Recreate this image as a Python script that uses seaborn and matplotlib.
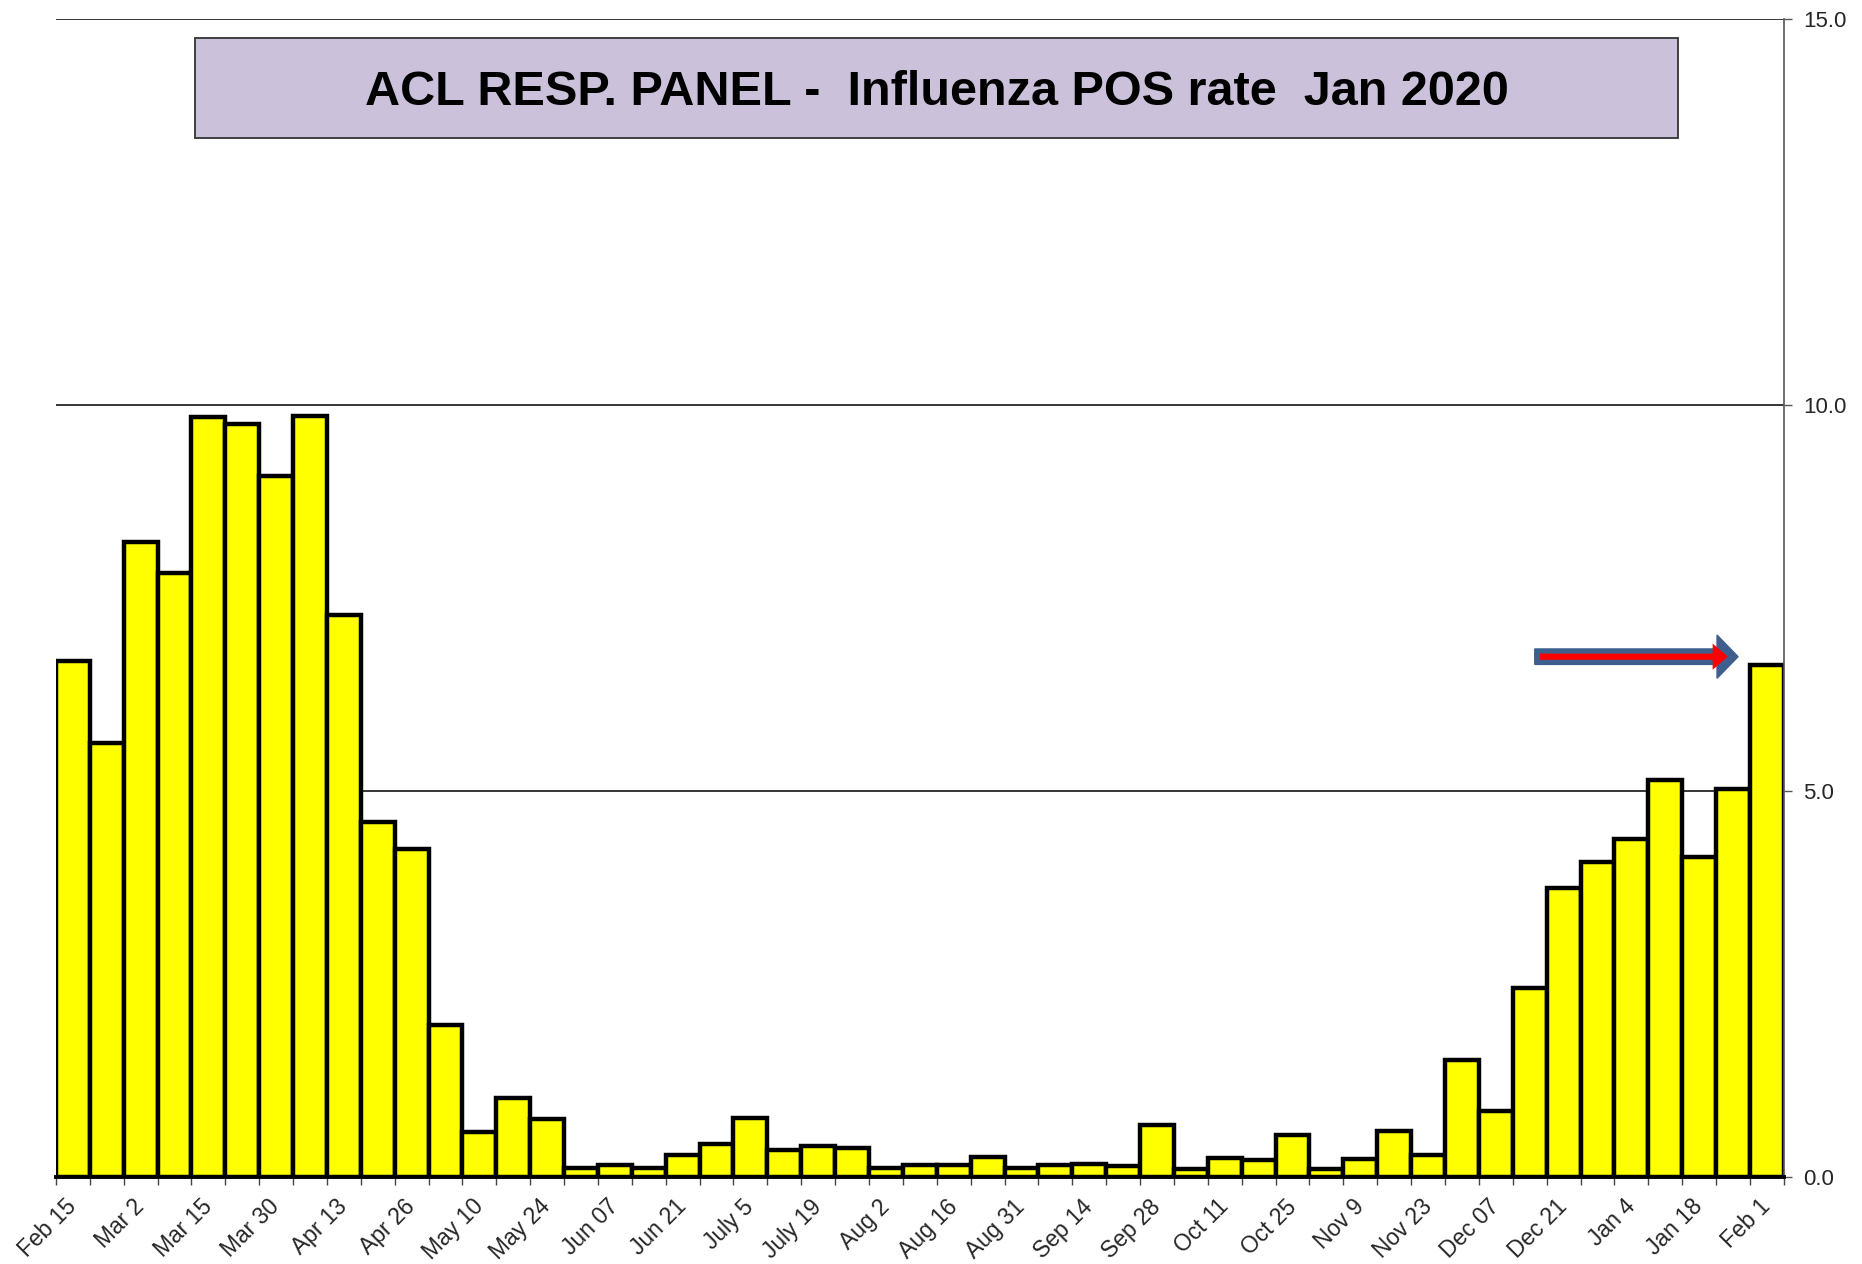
import numpy as np
import pandas as pd
import matplotlib
matplotlib.use("Agg")
import matplotlib.pyplot as plt
import matplotlib.transforms as mtransforms
import seaborn as sns
from matplotlib.patches import Rectangle, FancyArrow

# ---- data ----
week_labels = ["Feb 15", "Mar 2", "Mar 15", "Mar 30", "Apr 13", "Apr 26", "May 10",
               "May 24", "Jun 07", "Jun 21", "July 5", "July 19", "Aug 2", "Aug 16",
               "Aug 31", "Sep 14", "Sep 28", "Oct 11", "Oct 25", "Nov 9", "Nov 23",
               "Dec 07", "Dec 21", "Jan 4", "Jan 18", "Feb 1"]
pos_rate = [6.69, 5.62, 8.23, 7.82, 9.85, 9.75, 9.08, 9.86, 7.28, 4.60,
            4.25, 1.97, 0.58, 1.02, 0.75, 0.12, 0.15, 0.12, 0.28, 0.43,
            0.77, 0.35, 0.40, 0.38, 0.12, 0.15, 0.15, 0.26, 0.12, 0.15,
            0.17, 0.14, 0.68, 0.11, 0.25, 0.22, 0.55, 0.11, 0.23, 0.60,
            0.29, 1.52, 0.85, 2.45, 3.75, 4.08, 4.38, 5.14, 4.15, 5.02,
            6.63]
y_ticks = [0.0, 5.0, 10.0, 15.0]
title_text = "ACL RESP. PANEL -  Influenza POS rate  Jan 2020"

week_index = list(range(len(pos_rate)))
df = pd.DataFrame({"week": week_index, "rate": pos_rate})

sns.set_theme(style="white")
plt.rcParams["font.family"] = ["Liberation Sans", "DejaVu Sans"]

fig = plt.figure(figsize=(18.62, 12.64), dpi=100)
ax = fig.add_axes([0.030, 0.0688, 0.928, 0.9162])

sns.barplot(data=df, x="week", y="rate", order=week_index, color="#FFFF00",
            saturation=1, edgecolor="black", linewidth=3.2, width=1.0, ax=ax,
            errorbar=None)

n = len(pos_rate)
ax.set_xlim(-0.5, n - 0.5)
ax.set_ylim(0, 15)
ax.set_xlabel("")
ax.set_ylabel("")

# x ticks: labels every other week, tick marks at category boundaries
ax.set_xticks(np.arange(0, n, 2))
ax.set_xticklabels(week_labels, rotation=45, ha="right", rotation_mode="anchor",
                   fontsize=16.5)
ax.set_xticks(np.arange(-0.5, n, 1), minor=True)
ax.tick_params(axis="x", which="major", length=0, pad=13)
ax.tick_params(axis="x", which="minor", length=6, width=1, color="#444444",
               direction="out", bottom=True)
shift = mtransforms.ScaledTranslation(-8 / 100, 0, fig.dpi_scale_trans)
for lbl in ax.get_xticklabels():
    lbl.set_transform(lbl.get_transform() + shift)

# y axis on right
ax.yaxis.tick_right()
ax.set_yticks(y_ticks)
ax.set_yticklabels([f"{v:.1f}" for v in y_ticks], fontsize=16)
ax.tick_params(axis="y", which="major", length=6, width=1, color="#555555",
               direction="out", right=True, left=False, pad=8)

ax.yaxis.grid(True, color="black", linewidth=1.1)
ax.xaxis.grid(False)
ax.set_axisbelow(True)

for s in ["top", "left"]:
    ax.spines[s].set_visible(False)
ax.spines["right"].set_color("#555555")
ax.spines["right"].set_linewidth(1.2)
ax.spines["bottom"].set_color("black")
ax.spines["bottom"].set_linewidth(2.8)

# title box
box = Rectangle((0.0804, 0.897), 0.8586, 0.0866, transform=ax.transAxes,
                facecolor="#CCC1DA", edgecolor="#333333", linewidth=1.3,
                zorder=5)
ax.add_patch(box)
ax.text(0.0804 + 0.8586 / 2, 0.897 + 0.0866 / 2 - 0.004, title_text,
        transform=ax.transAxes, ha="center", va="center", fontsize=35,
        fontweight="bold", color="black", zorder=6)

# arrow annotation
arrow_x0, arrow_x1, arrow_y = 43.15, 49.15, 6.74
blue = FancyArrow(arrow_x0, arrow_y, arrow_x1 - arrow_x0, 0, width=0.2,
                  head_width=0.56, head_length=0.62, length_includes_head=True,
                  facecolor="#3E5F8E", edgecolor="#3E5F8E", linewidth=1, zorder=7)
ax.add_patch(blue)
red = FancyArrow(arrow_x0 + 0.15, arrow_y, arrow_x1 - arrow_x0 - 0.45, 0, width=0.08,
                 head_width=0.34, head_length=0.45, length_includes_head=True,
                 facecolor="#FF0000", edgecolor="none", zorder=8)
ax.add_patch(red)

fig.savefig("out.png", dpi=100, facecolor="white")
